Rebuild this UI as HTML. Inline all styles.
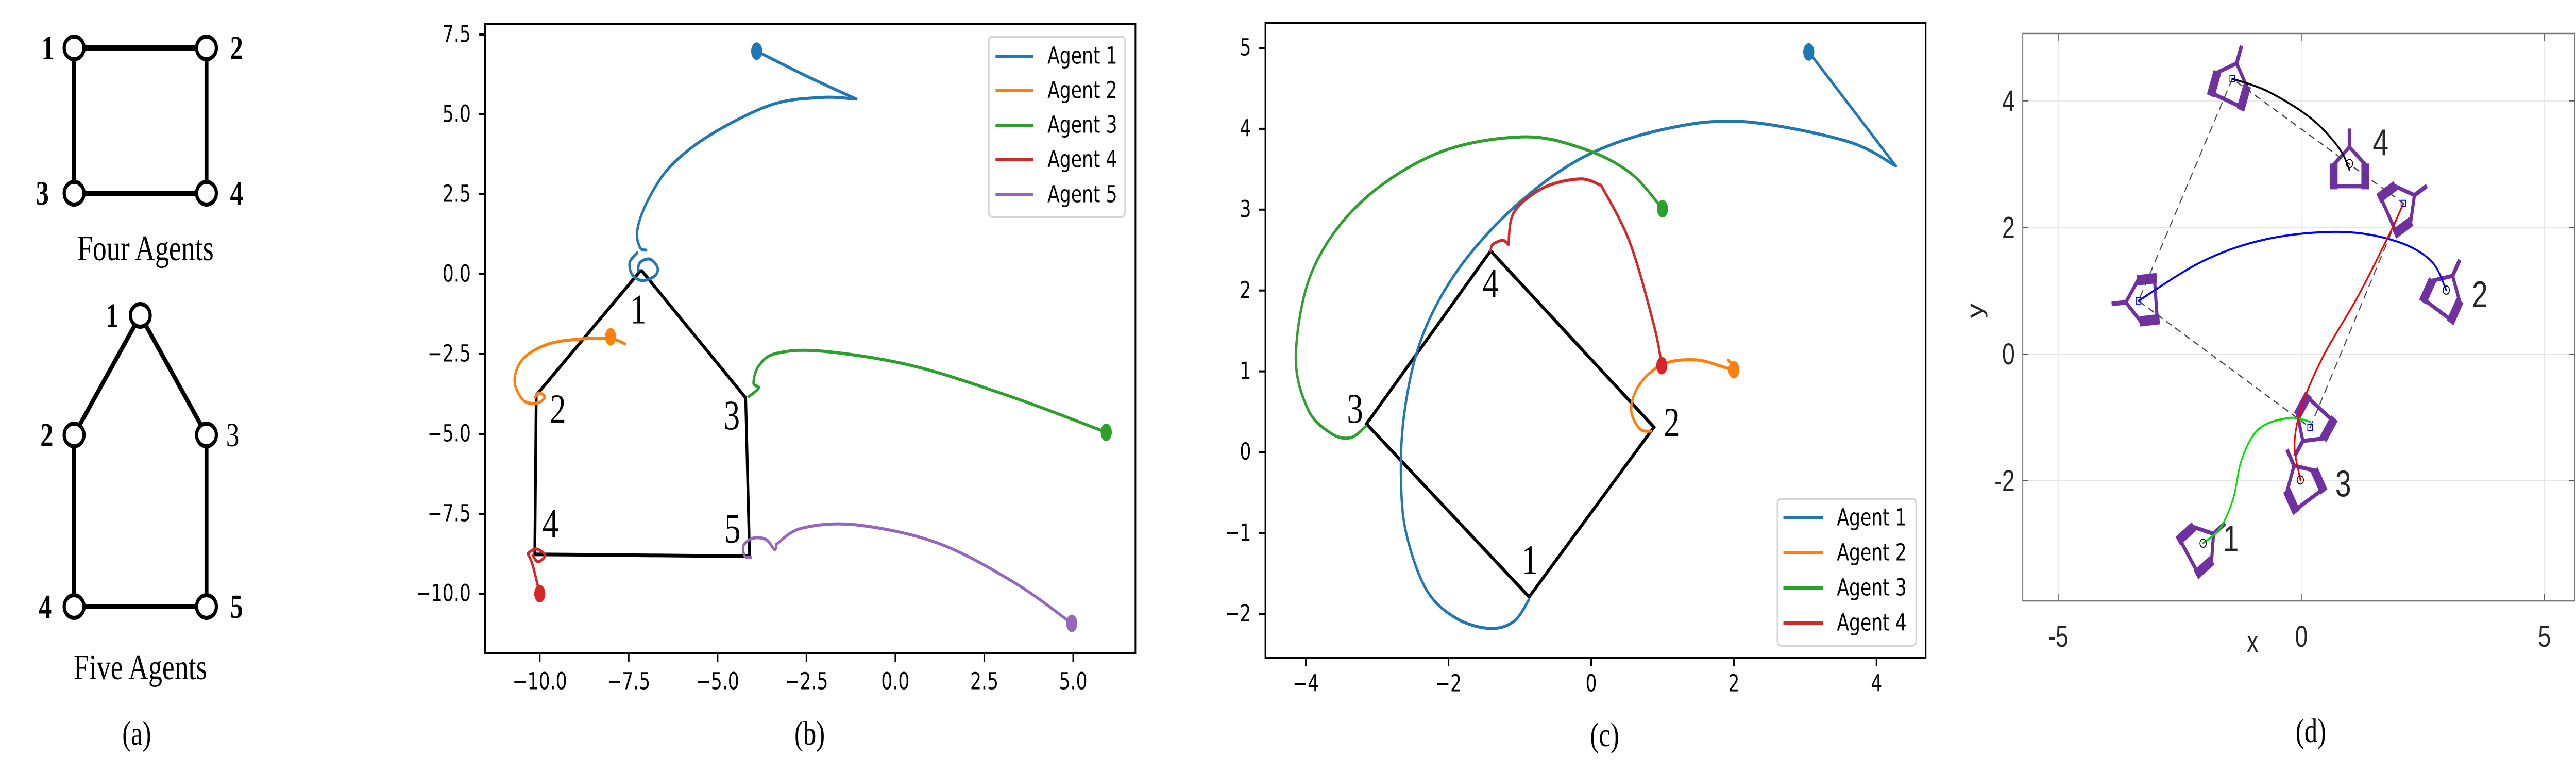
<!DOCTYPE html>
<html><head><meta charset="utf-8"><style>
html,body{margin:0;padding:0;background:#fff;width:100%;height:100%;overflow:hidden;}
svg{display:block;width:100vw;height:100vh;}
.tk{font-family:"DejaVu Sans","Liberation Sans",sans-serif;font-size:45px;fill:#000;}
.ser{font-family:"Liberation Serif",serif;}
.mt{font-family:"Liberation Sans",sans-serif;fill:#262626;}
</style></head><body>
<svg id="fig" xmlns="http://www.w3.org/2000/svg" viewBox="0 0 6500 1500" preserveAspectRatio="none" overflow="hidden">
<rect width="6500" height="1500" fill="#fff"/>
<g id="pa"></g>
<g id="pb"></g>
<g id="pc"></g>
<g id="pd"></g>
<text class="ser" x="345" y="1445" font-size="66" text-anchor="middle">(a)</text>
<text class="ser" x="2043" y="1445" font-size="66" text-anchor="middle">(b)</text>
<text class="ser" x="4049" y="1448" font-size="66" text-anchor="middle">(c)</text>
<text class="ser" x="5831" y="1440" font-size="66" text-anchor="middle">(d)</text>
</svg>
<script>
// ---------- data ----------
const aFourNodes=[[187,93],[521,93],[187,375],[521,375]];
const aFourLabels=["1","2","3","4"];
const aFourEdges=[[0,1],[0,2],[1,3],[2,3]];
const aFiveNodes=[[354,612],[187,844],[521,844],[187,1177],[521,1177]];
const aFiveLabels=["1","2","3","4","5"];
const aFiveEdges=[[0,1],[0,2],[1,3],[2,4],[3,4]];

const bXTicks=[-10,-7.5,-5,-2.5,0,2.5,5];
const bYTicks=[7.5,5,2.5,0,-2.5,-5,-7.5,-10];
const bXTickLabels=["−10.0","−7.5","−5.0","−2.5","0.0","2.5","5.0"];
const bYTickLabels=["7.5","5.0","2.5","0.0","−2.5","−5.0","−7.5","−10.0"];
const bFormation=[[-7.15,0.13],[-10.1,-3.79],[-10.14,-8.77],[-4.10,-8.83],[-4.21,-3.87],[-7.15,0.13]];
const bVertexLabels=["1","2","3","4","5"];
const bVertexLabelPos=[[-7.23,-1.1],[-9.49,-4.22],[-4.6,-4.41],[-9.7,-7.8],[-4.58,-7.95]];
const bAgent1a=[[-3.9,6.98],[-2.5,6.2],[-1.1,5.48]];
const bAgent1b=[[-1.1,5.48],[-2.07,5.53],[-3.49,5.3],[-5.19,4.37],[-6.33,3.37],[-6.97,2.29],[-7.26,1.37],[-7.18,0.83],[-7.01,0.75]];
const bAgent1c=[[-7.26,0.67],[-7.47,0.37],[-7.4,-0.02],[-7.11,-0.2],[-6.76,-0.05],[-6.69,0.21],[-6.9,0.47],[-7.18,0.37],[-7.24,0.1]];
const bAgent2=[[-7.61,-2.18],[-8.0,-2.02],[-8.75,-2.02],[-9.74,-2.18],[-10.46,-2.64],[-10.71,-3.33],[-10.46,-3.95],[-10.06,-4.03],[-9.86,-3.84],[-10.03,-3.72],[-10.14,-3.87]];
const bAgent3=[[5.93,-4.95],[3.34,-3.87],[0.49,-2.87],[-2.07,-2.41],[-3.35,-2.48],[-3.84,-2.87],[-3.99,-3.41],[-3.84,-3.56],[-4.13,-3.84]];
const bAgent4=[[-10.0,-10.0],[-10.2,-9.11],[-10.34,-8.74]];
const bAgent4loop=[[-10.34,-8.74],[-10.1,-8.6],[-9.85,-8.8],[-10.05,-9.0],[-10.2,-8.8]];
const bAgent5a=[[4.96,-10.93],[3.34,-9.65],[1.2,-8.42],[-1.07,-7.85],[-2.63,-7.95],[-3.35,-8.46]];
const bAgent5b=[[-3.35,-8.46],[-3.4,-8.62],[-3.63,-8.31],[-3.99,-8.26],[-4.27,-8.49],[-4.23,-8.83],[-4.06,-8.86]];
const bStarts=[[-3.9,6.98],[-8.01,-1.96],[5.93,-4.95],[-10.0,-10.0],[4.96,-10.93]];
const bNames=["Agent 1","Agent 2","Agent 3","Agent 4","Agent 5"];

const cXTicks=[-4,-2,0,2,4];
const cYTicks=[5,4,3,2,1,0,-1,-2];
const cXTickLabels=["−4","−2","0","2","4"];
const cYTickLabels=["5","4","3","2","1","0","−1","−2"];
const cFormation=[[-1.41,2.49],[0.88,0.31],[-0.87,-1.79],[-3.15,0.35],[-1.41,2.49]];
const cVertexLabels=["4","2","1","3"];
const cVertexLabelPos=[[-1.41,2.09],[1.13,0.37],[-0.86,-1.33],[-3.31,0.54]];
const cAgent1a=[[3.05,4.95],[3.7,4.2],[4.27,3.54]];
const cAgent1b=[[4.27,3.54],[3.57,3.85],[2.1,4.09],[0.95,3.98],[-0.13,3.64],[-1.08,3.03],[-1.88,2.24],[-2.39,1.38],[-2.63,0.41],[-2.66,-0.51],[-2.56,-1.12],[-2.29,-1.73],[-1.88,-2.06],[-1.41,-2.18],[-1.08,-2.09],[-0.87,-1.82]];
const cAgent2=[[1.92,1.14],[2.0,1.02],[1.49,1.14],[1.01,1.09],[0.68,0.84],[0.56,0.53],[0.68,0.29],[0.84,0.26]];
const cAgent3=[[1.0,3.01],[0.54,3.46],[-0.13,3.76],[-0.97,3.9],[-2.15,3.7],[-3.23,3.09],[-3.91,2.24],[-4.14,1.2],[-3.97,0.53],[-3.64,0.23],[-3.37,0.18],[-3.16,0.32]];
const cAgent4a=[[0.99,1.07],[0.88,1.57],[0.54,2.6],[0.14,3.3]];
const cAgent4b=[[0.14,3.3],[-0.16,3.38],[-0.67,3.27],[-1.08,2.97],[-1.16,2.57]];
const cAgent4c=[[-1.16,2.57],[-1.24,2.62],[-1.38,2.57],[-1.41,2.49]];
const cStarts=[[3.05,4.95],[2.0,1.02],[1.0,3.01],[0.99,1.07]];
const cNames=["Agent 1","Agent 2","Agent 3","Agent 4"];

const dXTicks=[-5,0,5];
const dYTicks=[4,2,0,-2];
const dXTickLabels=["-5","0","5"];
const dYTickLabels=["4","2","0","-2"];
const dStartSquares=[[0.18,-1.16],[-3.35,0.84],[2.1,2.38],[-1.42,4.35]];
const dEndCircles=[[-2.02,-2.99],[2.98,1.01],[-0.02,-1.99],[0.99,3.01]];
const dFormationOrder=[3,1,0,2,3];
const dTraj1=[[0.18,-1.07],[-0.25,-1.01],[-0.87,-1.18],[-1.22,-1.65],[-1.4,-2.28],[-1.66,-2.74],[-2.02,-2.99]];
const dTraj2=[[-3.35,0.84],[-2.02,1.47],[-0.69,1.82],[0.81,1.93],[1.96,1.78],[2.67,1.47],[2.98,1.01]];
const dTraj3=[[2.1,2.38],[1.79,1.86],[1.17,0.92],[0.46,-0.02],[0.02,-0.8],[-0.14,-1.42],[-0.02,-1.99]];
const dTraj4=[[-1.42,4.35],[-0.69,4.15],[0.19,3.73],[0.77,3.26],[0.99,2.91]];
const dRobotPos=[[0.99,3.01],[-1.42,4.35],[2.1,2.38],[-3.35,0.84],[2.98,1.01],[0.18,-1.16],[-0.02,-1.99],[-2.02,-2.99]];
const dRobotHeading=[0,20,60,-95,30,215,-30,55];
const dAgentLabels=["1","2","3","4"];
const dAgentLabelPos=[[-1.45,-2.92],[3.67,0.94],[0.86,-2.05],[1.63,3.34]];

// ---------- helpers ----------
const NS="http://www.w3.org/2000/svg";
function mk(parent,tag,attrs){const e=document.createElementNS(NS,tag);for(const k in attrs)e.setAttribute(k,attrs[k]);parent.appendChild(e);return e;}
function smooth(p){let d=`M${p[0][0].toFixed(1)},${p[0][1].toFixed(1)}`;for(let i=0;i<p.length-1;i++){const p0=p[i-1]||p[i],p1=p[i],p2=p[i+1],p3=p[i+2]||p2;const c1=[p1[0]+(p2[0]-p0[0])/6,p1[1]+(p2[1]-p0[1])/6],c2=[p2[0]-(p3[0]-p1[0])/6,p2[1]-(p3[1]-p1[1])/6];d+=` C${c1[0].toFixed(1)},${c1[1].toFixed(1)} ${c2[0].toFixed(1)},${c2[1].toFixed(1)} ${p2[0].toFixed(1)},${p2[1].toFixed(1)}`;}return d;}

// ---------- panel a ----------
const pa=document.getElementById('pa');
function graph(nodes,edges,labels,offs,bolds,nm){
  edges.forEach(([i,j])=>{const l=mk(pa,'line',{x1:nodes[i][0],y1:nodes[i][1],x2:nodes[j][0],y2:nodes[j][1],stroke:'#000','stroke-width':10});
    
    });
  nodes.forEach((n,i)=>{const c=mk(pa,'ellipse',{cx:n[0],cy:n[1],rx:25,ry:22,fill:'#fff',stroke:'#000','stroke-width':8});
    
    
    const t=mk(pa,'text',{x:n[0]+offs[i],y:n[1]+22,'font-size':66,'font-weight':bolds[i]?'bold':'normal','text-anchor':'middle',class:'ser'});t.textContent=labels[i];
    
    });
}
graph(aFourNodes,aFourEdges,aFourLabels,[-66,76,-80,76],[1,1,1,1],'four-agents');
graph(aFiveNodes,aFiveEdges,aFiveLabels,[-71,-69,66,-73,76],[1,1,0,1,1],'five-agents');
{let t=mk(pa,'text',{x:367,y:505,'font-size':70,'text-anchor':'middle',class:'ser'});t.textContent="Four Agents";

t=mk(pa,'text',{x:354,y:1318,'font-size':70,'text-anchor':'middle',class:'ser'});t.textContent="Five Agents";
}

// ---------- matplotlib panels ----------
const colors=["#1f77b4","#ff7f0e","#2ca02c","#d62728","#9467bd"];
function mplAxes(g,box,sx,sy,xt,xl,yt,yl,xLabY,yLabX,pfx){
  mk(g,'rect',{x:box[0],y:box[1],width:box[2]-box[0],height:box[3]-box[1],fill:'none',stroke:'#000','stroke-width':4});
  xt.forEach((v,i)=>{const x=sx(v);mk(g,'line',{x1:x,y1:box[3],x2:x,y2:box[3]+16,stroke:'#000','stroke-width':4});
    const t=mk(g,'text',{x:x,y:xLabY,class:'tk','text-anchor':'middle','dominant-baseline':'central'});t.textContent=xl[i];
    
    });
  yt.forEach((v,i)=>{const y=sy(v);mk(g,'line',{x1:box[0]-16,y1:y,x2:box[0],y2:y,stroke:'#000','stroke-width':4});
    const t=mk(g,'text',{x:yLabX,y:y,class:'tk','text-anchor':'end','dominant-baseline':'central'});t.textContent=yl[i];
    
    });
}
function series(g,arr,sx,sy,col,nm,w){const p=mk(g,'path',{d:smooth(arr.map(q=>[sx(q[0]),sy(q[1])])),fill:'none',stroke:col,'stroke-width':w||6,'stroke-linejoin':'round','stroke-linecap':'round'});
  
  return p;}
function poly(g,arr,sx,sy,nm){const p=mk(g,'polyline',{points:arr.map(q=>sx(q[0])+','+sy(q[1])).join(' '),fill:'none',stroke:'#000','stroke-width':7,'stroke-linejoin':'miter'});
  
  }
function dots(g,arr,sx,sy,pfx){arr.forEach((q,i)=>{const c=mk(g,'ellipse',{cx:sx(q[0]),cy:sy(q[1]),rx:14,ry:17,fill:colors[i]});
  
  });}
function vlabels(g,labels,pos,sx,sy,pfx){labels.forEach((s,i)=>{const t=mk(g,'text',{x:sx(pos[i][0]),y:sy(pos[i][1]),'font-size':82,'text-anchor':'middle','dominant-baseline':'central',class:'ser'});t.textContent=s;
  
  });}
function legend(g,box,rows,lx,tx,names,pfx){const r=mk(g,'rect',{x:box[0],y:box[1],width:box[2]-box[0],height:box[3]-box[1],rx:9,fill:'#fff','fill-opacity':0.85,stroke:'#d6d6d6','stroke-width':4});
  
  
  names.forEach((n,i)=>{mk(g,'line',{x1:lx[0],y1:rows[i],x2:lx[1],y2:rows[i],stroke:colors[i],'stroke-width':6});
    const t=mk(g,'text',{x:tx,y:rows[i],class:'tk','dominant-baseline':'central'});t.textContent=n;
    
    });}

// panel b
const pb=document.getElementById('pb');
const bx=v=>1362+(v+10)*89.73, by=v=>67+(7.5-v)*62.0;
mplAxes(pb,[1224,47,2865,1268],bx,by,bXTicks,bXTickLabels,bYTicks,bYTickLabels,1323,1188,'panel-b');
poly(pb,bFormation,bx,by,'panel-b-formation');
vlabels(pb,bVertexLabels,bVertexLabelPos,bx,by,'panel-b');
[[bAgent1a,bAgent1b,bAgent1c],[bAgent2],[bAgent3],[bAgent4,bAgent4loop],[bAgent5a,bAgent5b]].forEach((segs,i)=>segs.forEach(s=>series(pb,s,bx,by,colors[i],'panel-b-agent-'+(i+1)+'-trajectory')));
dots(pb,bStarts,bx,by,'panel-b');
legend(pb,[2495,71,2839,421],[109,176,243,310,378],[2512,2607],2643,bNames,'panel-b');

// panel c
const pc=document.getElementById('pc');
const cx=v=>4015+v*180, cy=v=>93+(5-v)*156.9;
mplAxes(pc,[3193,45,4859,1276],cx,cy,cXTicks,cXTickLabels,cYTicks,cYTickLabels,1327,3157,'panel-c');
poly(pc,cFormation,cx,cy,'panel-c-formation');
vlabels(pc,cVertexLabels,cVertexLabelPos,cx,cy,'panel-c');
[[cAgent1a,cAgent1b],[cAgent2],[cAgent3],[cAgent4a,cAgent4b,cAgent4c]].forEach((segs,i)=>segs.forEach(s=>series(pc,s,cx,cy,colors[i],'panel-c-agent-'+(i+1)+'-trajectory')));
dots(pc,cStarts,cx,cy,'panel-c');
legend(pc,[4485,968,4835,1253],[1005,1073,1141,1209],[4500,4600],4635,cNames,'panel-c');

// panel d
const pd=document.getElementById('pd');
const dx=v=>5807+v*122.7, dy=v=>687-v*122.8;
const dBox=[5104,65,6497,1166];
dXTicks.forEach((v,i)=>{const x=dx(v);mk(pd,'line',{x1:x,y1:dBox[1],x2:x,y2:dBox[3],stroke:'#e6e6e6','stroke-width':2});
  mk(pd,'line',{x1:x,y1:dBox[3],x2:x,y2:dBox[3]-14,stroke:'#555','stroke-width':2});mk(pd,'line',{x1:x,y1:dBox[1],x2:x,y2:dBox[1]+14,stroke:'#555','stroke-width':2});
  const t=mk(pd,'text',{x:x,y:1235,class:'mt','font-size':58,'text-anchor':'middle','dominant-baseline':'central'});t.textContent=dXTickLabels[i];
  
  });
dYTicks.forEach((v,i)=>{const y=dy(v);mk(pd,'line',{x1:dBox[0],y1:y,x2:dBox[2],y2:y,stroke:'#e6e6e6','stroke-width':2});
  mk(pd,'line',{x1:dBox[0],y1:y,x2:dBox[0]+14,y2:y,stroke:'#555','stroke-width':2});mk(pd,'line',{x1:dBox[2],y1:y,x2:dBox[2]-14,y2:y,stroke:'#555','stroke-width':2});
  const t=mk(pd,'text',{x:5084,y:y,class:'mt','font-size':58,'text-anchor':'end','dominant-baseline':'central'});t.textContent=dYTickLabels[i];
  
  });
mk(pd,'rect',{x:dBox[0],y:dBox[1],width:dBox[2]-dBox[0],height:dBox[3]-dBox[1],fill:'none',stroke:'#777','stroke-width':2.5});
{let t=mk(pd,'text',{x:5684,y:1245,class:'mt','font-size':58,'text-anchor':'middle','dominant-baseline':'central'});t.textContent="x";

t=mk(pd,'text',{x:0,y:0,class:'mt','font-size':58,'text-anchor':'middle','dominant-baseline':'central',transform:'translate(4982,603) rotate(-90)'});t.textContent="y";
}
// robots
dRobotPos.forEach((p,i)=>{const g=mk(pd,'g',{transform:`translate(${dx(p[0])},${dy(p[1])}) rotate(${dRobotHeading[i]})`,stroke:'#7030a0',fill:'none'});
  
  
  mk(g,'polygon',{points:'-40,44 40,44 40,2 0,-32 -40,2','stroke-width':8});
  mk(g,'rect',{x:-50,y:0,width:20,height:50,fill:'#7030a0',stroke:'none'});
  mk(g,'rect',{x:30,y:0,width:20,height:50,fill:'#7030a0',stroke:'none'});
  mk(g,'line',{x1:0,y1:-32,x2:0,y2:-68,'stroke-width':9});});
// dashed formation
{const p=mk(pd,'path',{d:'M'+dFormationOrder.map(k=>dx(dStartSquares[k][0])+','+dy(dStartSquares[k][1])).join(' L'),fill:'none',stroke:'#444','stroke-width':2.5,'stroke-dasharray':'16 10'});

}
const dCols=["#00e000","#0000ff","#ff0000","#000000"];
[dTraj1,dTraj2,dTraj3,dTraj4].forEach((t,i)=>series(pd,t,dx,dy,dCols[i],'panel-d-agent-'+(i+1)+'-trajectory',4));
dStartSquares.forEach(q=>{const r=mk(pd,'rect',{x:dx(q[0])-6,y:dy(q[1])-6,width:12,height:12,fill:'none',stroke:'#0000ff','stroke-width':2});
  
  });
dEndCircles.forEach(q=>{const c=mk(pd,'circle',{cx:dx(q[0]),cy:dy(q[1]),r:8,fill:'none',stroke:'#000','stroke-width':2});
  
  });
dAgentLabels.forEach((s,i)=>{const t=mk(pd,'text',{x:dx(dAgentLabelPos[i][0]),y:dy(dAgentLabelPos[i][1]),class:'mt','font-size':72,'text-anchor':'middle','dominant-baseline':'central',fill:'#000'});t.textContent=s;
  
  });
</script>
</body></html>
